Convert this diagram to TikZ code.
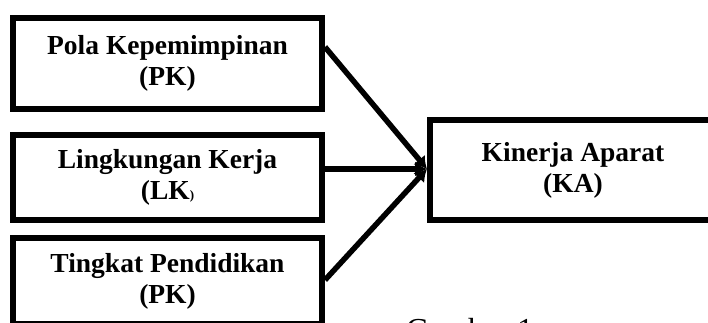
\documentclass[tikz,border=0pt]{standalone}
\usepackage{fontspec}
\setmainfont{Liberation Serif}
\usetikzlibrary{arrows.meta}
\begin{document}
\begin{tikzpicture}[x=1pt,y=-1pt,
  boxnode/.style={draw=black, line width=6pt, inner sep=0pt, align=center,
    font=\fontsize{27.5}{31}\selectfont\bfseries},
  conn/.style={line width=5.5pt, -{Latex[length=12pt,width=15pt]}}]
\useasboundingbox (0,0) rectangle (708,323);
\clip (0,0) rectangle (708,323);
\node[boxnode, minimum width=309pt, minimum height=91pt] (pk) at (167.5,63.5) {Pola Kepemimpinan\\(PK)};
\node[boxnode, minimum width=309pt, minimum height=85pt] (lk) at (167.5,177.5) {Lingkungan Kerja\\(LK{\fontsize{13}{15}\selectfont)}};
\node[boxnode, minimum width=309pt, minimum height=86pt] (tp) at (167.5,281) {Tingkat Pendidikan\\(PK)};
\node[boxnode, minimum width=286pt, minimum height=100pt] (ka) at (573,170) {Kinerja Aparat\\(KA)};
\coordinate (tip) at (427,169);
\draw[conn] (pk.east |- 0,47) -- (tip);
\draw[conn] (lk.east |- tip) -- (tip);
\draw[conn] (tp.east |- 0,280) -- (tip);
\node[font=\fontsize{32}{36}\selectfont, anchor=north west, inner sep=0pt] (cap) at (406,318) {Gambar 1};
\end{tikzpicture}
\end{document}
